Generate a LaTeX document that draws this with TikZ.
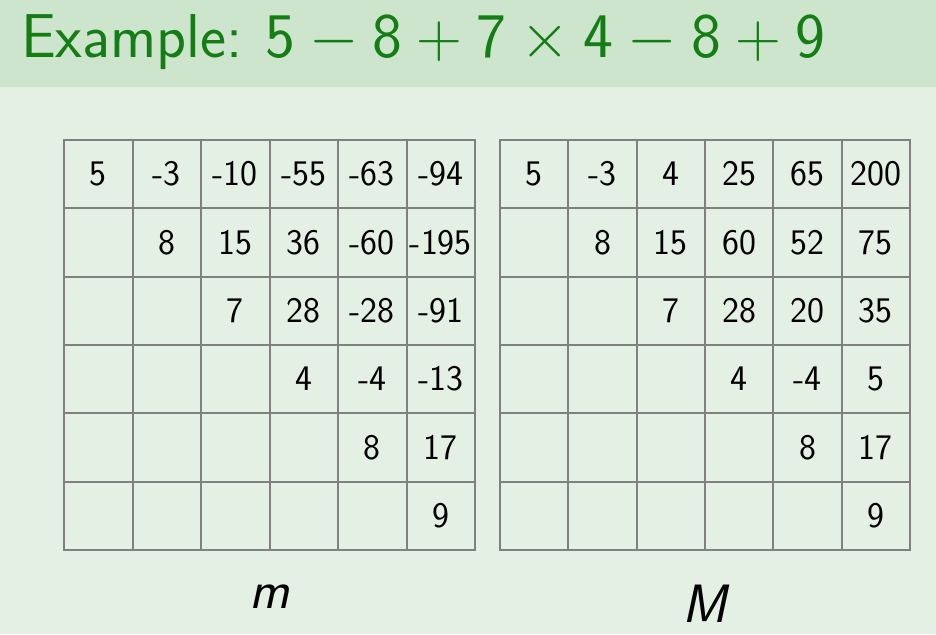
\RequirePackage{fix-cm}
\documentclass[tikz,border=0pt]{standalone}
\usepackage{fontspec}
\newfontfamily\titlefont[Extension=.otf]{lmsans17-regular}
\definecolor{bandgreen}{RGB}{204,229,204}
\definecolor{bggreen}{RGB}{229,240,229}
\definecolor{titlegreen}{RGB}{20,125,20}
\definecolor{gridgray}{RGB}{128,128,128}
\begin{document}
\begin{tikzpicture}[x=1pt,y=-1pt,
  cellm/.style={draw=gridgray,line width=2pt,minimum width=68.5pt,minimum height=68.33pt,inner sep=0pt,
    font=\fontsize{36}{36}\selectfont\sffamily,text=black},
  cellM/.style={cellm,minimum width=68.33pt},
  titletext/.style={inner sep=0pt,anchor=base west,text=titlegreen,font=\fontsize{62}{66}\selectfont\titlefont},
  lbl/.style={inner sep=0pt,anchor=base,text=black,font=\fontsize{54}{54}\selectfont\sffamily\slshape}]
\useasboundingbox (0,0) rectangle (936,634);
\fill[bggreen] (0,0) rectangle (936,634);
\fill[bandgreen] (0,0) rectangle (936,87);
\node[titletext] (title) at (21,57) {Example:};
\node[titletext,font=\fontsize{63.5}{66}\selectfont\titlefont] (expr) at (265,57) {$\mathsf{5}-\mathsf{8}+\mathsf{7}\times\mathsf{4}-\mathsf{8}+\mathsf{9}$};
% matrix m
\foreach \row [count=\r] in {{5,-3,-10,-55,-63,-94},{{},8,15,36,-60,-195},{{},{},7,28,-28,-91},{{},{},{},4,-4,-13},{{},{},{},{},8,17},{{},{},{},{},{},9}}{
  \foreach \v [count=\c] in \row {
    \node[cellm] (m-\r-\c) at ({64+68.5*(\c-0.5)},{140+68.33*(\r-0.5)}) {\v};
  }
}
% matrix M
\foreach \row [count=\r] in {{5,-3,4,25,65,200},{{},8,15,60,52,75},{{},{},7,28,20,35},{{},{},{},4,-4,5},{{},{},{},{},8,17},{{},{},{},{},{},9}}{
  \foreach \v [count=\c] in \row {
    \node[cellM] (M-\r-\c) at ({500+68.33*(\c-0.5)},{140+68.33*(\r-0.5)}) {\v};
  }
}
\node[lbl] (mlabel) at (270,608) {m};
\node[lbl] (Mlabel) at (705,622) {M};
\end{tikzpicture}
\end{document}
